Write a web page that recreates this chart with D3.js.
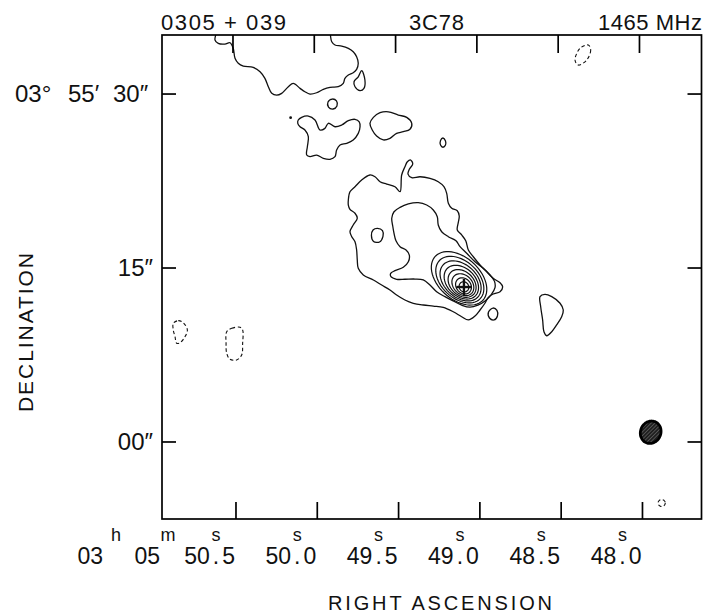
<!DOCTYPE html>
<html>
<head>
<meta charset="utf-8">
<script src="https://cdn.jsdelivr.net/npm/d3@7"></script>
<style>
  html, body { margin: 0; padding: 0; background: #fff; }
  svg { display: block; }
  text { font-family: "Liberation Sans", Arial, sans-serif; fill: #111; }
</style>
</head>
<body>
<svg id="map" width="703" height="616"></svg>
<script>
// ---- Axes: right ascension in seconds of time (03h 05m), declination in arcsec past +03°55′ ----
const raDomain = [50.955, 47.637];
const decDomain = [-6.64, 35.09];
const raTicks = [50.5, 50.0, 49.5, 49.0, 48.5, 48.0];
const raTickLabels = ["50.5", "50.0", "49.5", "49.0", "48.5", "48.0"];
const decTicks = [30, 15, 0];
const decTickLabels = [["03° ", "55′ ", "30″"], ["15″"], ["00″"]];
const headerLabels = ["0305 + 039", "3C78", "1465 MHz"];

// ---- Positive contours: [RA s, Dec ″] ----
// northern ridge, cut by the upper edge of the map
const ridgeNorth = [[50.619,35.30],[50.629,34.66],[50.609,34.37],[50.568,34.31],[50.537,34.42],[50.517,33.94],[50.506,33.08],[50.486,32.65],[50.455,32.41],[50.394,32.30],[50.352,31.92],[50.322,31.35],[50.301,30.63],[50.280,30.06],[50.250,29.91],[50.219,30.06],[50.178,30.63],[50.148,30.92],[50.106,30.49],[50.076,30.20],[50.045,30.00],[50.004,30.11],[49.963,30.41],[49.922,30.58],[49.871,30.63],[49.840,30.92],[49.830,31.35],[49.809,31.64],[49.779,31.84],[49.758,32.13],[49.748,32.65],[49.758,33.22],[49.779,33.65],[49.809,33.94],[49.850,34.14],[49.891,34.23],[49.911,34.51],[49.918,34.94],[49.918,35.30]];
const blobNorth = [[49.727,32.01],[49.707,31.21],[49.713,30.49],[49.737,30.29],[49.768,30.63],[49.774,31.06],[49.748,31.49]];
const knotNorth = [[49.908,29.57],[49.882,29.40],[49.879,28.97],[49.903,28.71],[49.931,28.88],[49.934,29.31]];
const lobeWest = [[50.117,27.76],[50.096,27.99],[50.055,28.10],[50.014,27.76],[49.983,26.90],[49.953,27.04],[49.932,27.48],[49.891,27.18],[49.850,27.33],[49.809,27.70],[49.768,27.82],[49.742,27.61],[49.737,27.18],[49.748,26.61],[49.779,26.04],[49.819,25.75],[49.860,25.60],[49.881,25.17],[49.891,24.60],[49.922,24.37],[49.963,24.46],[50.004,24.74],[50.045,24.60],[50.065,24.74],[50.061,25.46],[50.055,26.32],[50.076,26.90],[50.106,27.18],[50.120,27.48]];
const lobeEast = [[49.676,27.48],[49.655,27.99],[49.614,28.39],[49.563,28.47],[49.502,28.19],[49.450,27.99],[49.419,27.48],[49.430,26.96],[49.471,26.75],[49.512,26.61],[49.553,26.18],[49.594,26.04],[49.635,26.38],[49.662,26.90]];
const knotEast = [[49.227,26.21],[49.2115,25.95],[49.2115,25.60],[49.227,25.41],[49.242,25.60],[49.242,25.99]];
const envelope = [[49.809,20.86],[49.799,21.58],[49.768,22.01],[49.727,22.59],[49.676,23.02],[49.645,22.87],[49.614,22.44],[49.573,22.24],[49.522,22.01],[49.491,21.58],[49.481,23.02],[49.461,23.73],[49.446,24.16],[49.4255,24.31],[49.413,23.97],[49.434,23.51],[49.442,23.10],[49.419,22.79],[49.368,22.87],[49.307,22.73],[49.256,22.44],[49.221,22.01],[49.204,21.44],[49.194,20.58],[49.173,20.15],[49.139,19.94],[49.127,19.48],[49.133,18.91],[49.139,18.28],[49.112,17.85],[49.087,17.35],[49.071,16.55],[49.0405,15.97],[48.999,15.26],[48.958,14.68],[48.918,14.11],[48.876,13.73],[48.860,13.39],[48.876,12.96],[48.918,12.76],[48.948,12.47],[48.969,11.96],[48.999,11.38],[49.030,10.86],[49.071,10.52],[49.112,10.80],[49.164,11.23],[49.225,11.61],[49.2865,11.72],[49.348,11.81],[49.4095,11.96],[49.461,12.24],[49.512,12.67],[49.553,13.10],[49.604,13.53],[49.655,13.97],[49.717,14.40],[49.748,14.97],[49.754,15.69],[49.758,16.55],[49.768,17.27],[49.788,17.70],[49.799,18.13],[49.779,18.71],[49.754,19.29],[49.768,19.72],[49.799,20.06],[49.809,20.43]];
const envelopeHole = [[49.630,18.42],[49.599,18.23],[49.596,17.72],[49.617,17.24],[49.654,17.29],[49.667,17.80],[49.657,18.28]];
const plateau = [[49.542,19.29],[49.528,19.85],[49.491,20.23],[49.440,20.52],[49.379,20.63],[49.327,20.43],[49.2865,20.00],[49.262,19.42],[49.256,18.71],[49.235,18.13],[49.194,17.70],[49.147,17.35],[49.122,16.84],[49.081,16.27],[49.030,15.54],[48.979,14.97],[48.938,14.40],[48.910,13.85],[48.907,13.30],[48.930,12.70],[48.966,12.18],[49.012,11.80],[49.061,11.62],[49.112,11.80],[49.164,12.16],[49.215,12.53],[49.266,12.96],[49.307,13.53],[49.348,13.97],[49.399,14.05],[49.461,14.03],[49.512,14.03],[49.547,14.25],[49.5485,14.54],[49.522,14.77],[49.471,15.06],[49.440,15.54],[49.434,16.12],[49.454,16.55],[49.491,16.84],[49.516,17.35],[49.528,17.99],[49.536,18.62]];
const knotSouth = [[48.919,11.55],[48.895,11.34],[48.892,10.86],[48.913,10.52],[48.941,10.69],[48.947,11.21]];
const lobeSouthEast = [[48.630,12.53],[48.600,12.73],[48.558,12.53],[48.507,11.96],[48.487,11.38],[48.497,10.80],[48.528,10.09],[48.558,9.51],[48.589,9.16],[48.606,9.51],[48.614,10.52],[48.626,11.66]];

// ---- Negative contours (dashed) ----
const negNorthEast = [[48.333,34.23],[48.3185,33.79],[48.343,32.93],[48.395,32.50],[48.415,32.93],[48.384,33.94]];
const negWest1 = [[50.8855,10.23],[50.855,10.46],[50.824,10.28],[50.799,9.66],[50.8135,9.08],[50.844,8.56],[50.865,8.51],[50.875,9.08],[50.8855,9.66]];
const negWest2 = [[50.557,9.51],[50.526,9.80],[50.475,9.89],[50.459,9.66],[50.459,8.51],[50.465,7.50],[50.496,7.07],[50.537,7.13],[50.557,7.65],[50.561,8.51]];

// ---- Compact core: nested elliptical contours [semi-major ″, semi-minor ″, offset west ″, offset north ″] ----
const coreCentre = [49.098, 13.36];
const corePA = -38;   // major-axis direction, degrees from west towards north
const coreLevels = [
  [2.90, 1.85, -0.45, 0.75],
  [2.50, 1.64, -0.38, 0.64],
  [2.12, 1.44, -0.31, 0.53],
  [1.76, 1.24, -0.24, 0.42],
  [1.42, 1.04, -0.17, 0.31],
  [1.10, 0.84, -0.10, 0.20],
  [0.78, 0.64, -0.04, 0.10],
  [0.46, 0.42, 0.00, 0.02]
];
const crossHalf = 0.7;    // arm length of the core marker, arcsec

// small isolated features given as ellipses [RA s, Dec ″, a ″, b ″, angle °]
const speck = [50.164, 27.96];
const negSouthEast = [47.882, -5.26, 0.33, 0.30, 0];
const beam = [47.9495, 0.84, 1.00, 0.92, 50];

// ---------------------------------------------------------------------------
const frame = { left: 162, right: 701.5, top: 35, bottom: 519 };
const svg = d3.select("#map");

const x = d3.scaleLinear().domain(raDomain).range([frame.left, frame.right]);
const y = d3.scaleLinear().domain(decDomain).range([frame.bottom, frame.top]);

const cosDec = Math.cos((3 + 55.5 / 60) * Math.PI / 180);
function ellipsePoints(ra0, dec0, a, b, angDeg, dx = 0, dy = 0, n = 60) {
  const th = angDeg * Math.PI / 180;
  return d3.range(n).map(i => {
    const t = 2 * Math.PI * i / n;
    const u = a * Math.cos(t), v = b * Math.sin(t);
    const X = u * Math.cos(th) - v * Math.sin(th) + dx;  // arcsec west
    const Y = u * Math.sin(th) + v * Math.cos(th) + dy;  // arcsec north
    return [ra0 - X / (15 * cosDec), dec0 + Y];
  });
}

const defs = svg.append("defs");
defs.append("clipPath").attr("id", "plotClip")
  .append("rect")
  .attr("x", frame.left).attr("y", frame.top)
  .attr("width", frame.right - frame.left).attr("height", frame.bottom - frame.top);

const hatch = defs.append("pattern").attr("id", "beamHatch")
  .attr("patternUnits", "userSpaceOnUse").attr("width", 2.6).attr("height", 2.6)
  .attr("patternTransform", "rotate(45)");
hatch.append("rect").attr("width", 2.6).attr("height", 2.6).attr("fill", "#1e1e1e");
hatch.append("line").attr("x1", 0).attr("y1", 0).attr("x2", 0).attr("y2", 2.6)
  .attr("stroke", "#8a8a8a").attr("stroke-width", 0.9);

const openLine = d3.line().x(d => x(d[0])).y(d => y(d[1])).curve(d3.curveCatmullRom.alpha(0.5));
const closedLine = d3.line().x(d => x(d[0])).y(d => y(d[1])).curve(d3.curveCatmullRomClosed.alpha(0.5));
const polyLine = d3.line().x(d => x(d[0])).y(d => y(d[1])).curve(d3.curveLinearClosed);

const plot = svg.append("g").attr("clip-path", "url(#plotClip)");
const ink = "#111";

// positive contours
plot.append("path").attr("d", openLine(ridgeNorth))
  .attr("fill", "none").attr("stroke", ink).attr("stroke-width", 1.3);

const solidClosed = [blobNorth, knotNorth, lobeWest, lobeEast, knotEast, envelope,
                     envelopeHole, plateau, knotSouth, lobeSouthEast];
plot.selectAll("path.pos").data(solidClosed).join("path")
  .attr("class", "pos").attr("d", closedLine)
  .attr("fill", "none").attr("stroke", ink).attr("stroke-width", 1.3)
  .attr("stroke-linejoin", "round");

// negative contours
const dashedClosed = [negNorthEast, negWest1, negWest2,
  ellipsePoints(negSouthEast[0], negSouthEast[1], negSouthEast[2], negSouthEast[3], negSouthEast[4], 0, 0, 24)];
plot.selectAll("path.neg").data(dashedClosed).join("path")
  .attr("class", "neg").attr("d", closedLine)
  .attr("fill", "none").attr("stroke", ink).attr("stroke-width", 1.1)
  .attr("stroke-dasharray", "3.5,2.5");

// core contours
plot.selectAll("path.core").data(coreLevels).join("path")
  .attr("class", "core")
  .attr("d", d => polyLine(ellipsePoints(coreCentre[0], coreCentre[1], d[0], d[1], corePA, d[2], d[3])))
  .attr("fill", "none").attr("stroke", ink).attr("stroke-width", 1.2);

// core position marker
const cx = x(coreCentre[0]), cy = y(coreCentre[1]);
const armX = x(coreCentre[0] - crossHalf / (15 * cosDec)) - cx;
const armY = y(coreCentre[1]) - y(coreCentre[1] + crossHalf);
plot.append("line").attr("x1", cx - armX).attr("x2", cx + armX).attr("y1", cy).attr("y2", cy)
  .attr("stroke", ink).attr("stroke-width", 2.4);
plot.append("line").attr("x1", cx).attr("x2", cx).attr("y1", cy - armY).attr("y2", cy + armY)
  .attr("stroke", ink).attr("stroke-width", 2.4);

// isolated speck
plot.append("circle").attr("cx", x(speck[0])).attr("cy", y(speck[1])).attr("r", 1.4).attr("fill", ink);

// restoring beam
plot.append("path")
  .attr("d", closedLine(ellipsePoints(beam[0], beam[1], beam[2], beam[3], beam[4])))
  .attr("fill", "url(#beamHatch)").attr("stroke", "#000").attr("stroke-width", 2.8);

// ---- frame and ticks ----
svg.append("rect")
  .attr("x", frame.left).attr("y", frame.top)
  .attr("width", frame.right - frame.left).attr("height", frame.bottom - frame.top)
  .attr("fill", "none").attr("stroke", "#000").attr("stroke-width", 1.7);

const tickLenX = 17, tickLenY = 14;
const axes = svg.append("g").attr("stroke", "#000").attr("stroke-width", 1.7);
raTicks.forEach(t => {
  axes.append("line").attr("x1", x(t)).attr("x2", x(t))
    .attr("y1", frame.bottom).attr("y2", frame.bottom - tickLenX);
  axes.append("line").attr("x1", x(t) - 3).attr("x2", x(t) - 3)
    .attr("y1", frame.top).attr("y2", frame.top + tickLenX + 1);
});
decTicks.forEach(t => {
  axes.append("line").attr("x1", frame.left).attr("x2", frame.left + tickLenY)
    .attr("y1", y(t)).attr("y2", y(t));
  axes.append("line").attr("x1", frame.right).attr("x2", frame.right - tickLenY)
    .attr("y1", y(t)).attr("y2", y(t));
});

// ---- labels ----
const labels = svg.append("g");

// header
labels.append("text").attr("x", 161).attr("y", 30).attr("font-size", 22)
  .attr("textLength", 125).attr("lengthAdjust", "spacing").text(headerLabels[0]);
labels.append("text").attr("x", 409).attr("y", 30).attr("font-size", 22)
  .attr("textLength", 55).attr("lengthAdjust", "spacing").text(headerLabels[1]);
labels.append("text").attr("x", 598).attr("y", 30).attr("font-size", 22)
  .attr("textLength", 104).attr("lengthAdjust", "spacing").text(headerLabels[2]);

// declination tick labels: the reference declination is spelt out in three parts
const decPartX = [15, 68, 113];
decTicks.forEach((t, i) => {
  const parts = decTickLabels[i];
  if (parts.length > 1) {
    const txt = labels.append("text").attr("y", y(t) + 8).attr("font-size", 24);
    parts.forEach((part, k) => txt.append("tspan").attr("x", decPartX[k]).text(part));
  } else {
    labels.append("text").attr("x", 153).attr("y", y(t) + 8)
      .attr("font-size", 24).attr("text-anchor", "end").text(parts[0]);
  }
});

// right ascension: hours and minutes prefix
const base = 563.5, sup = 541;
labels.append("text").attr("x", 103).attr("y", base).attr("font-size", 23)
  .attr("text-anchor", "end").text("03");
labels.append("text").attr("x", 116).attr("y", sup).attr("font-size", 18)
  .attr("text-anchor", "middle").text("h");
labels.append("text").attr("x", 160).attr("y", base).attr("font-size", 23)
  .attr("text-anchor", "end").text("05");
labels.append("text").attr("x", 168).attr("y", sup).attr("font-size", 18)
  .attr("text-anchor", "middle").text("m");

// seconds labels, decimal point aligned under the "s"
const decimalShift = 20;
raTicks.forEach((t, i) => {
  const xd = x(t) - decimalShift;
  const [ip, fp] = raTickLabels[i].split(".");
  const txt = labels.append("text").attr("x", xd).attr("y", base).attr("font-size", 23);
  txt.append("tspan").text(ip);
  txt.append("tspan").attr("dx", 3).text(".");
  txt.append("tspan").attr("dx", 3).text(fp);
  const ext = txt.node().getExtentOfChar(ip.length);
  const c = ext.x + ext.width / 2;
  txt.attr("x", xd + (xd - c));
  labels.append("text").attr("x", xd).attr("y", sup).attr("font-size", 18)
    .attr("text-anchor", "middle").text("s");
});

// axis titles
labels.append("text").attr("x", 328).attr("y", 610).attr("font-size", 20)
  .attr("textLength", 224).attr("lengthAdjust", "spacing").text("RIGHT ASCENSION");
labels.append("text").attr("transform", "translate(33,412) rotate(-90)")
  .attr("font-size", 21).attr("textLength", 159).attr("lengthAdjust", "spacing")
  .text("DECLINATION");
</script>
</body>
</html>
